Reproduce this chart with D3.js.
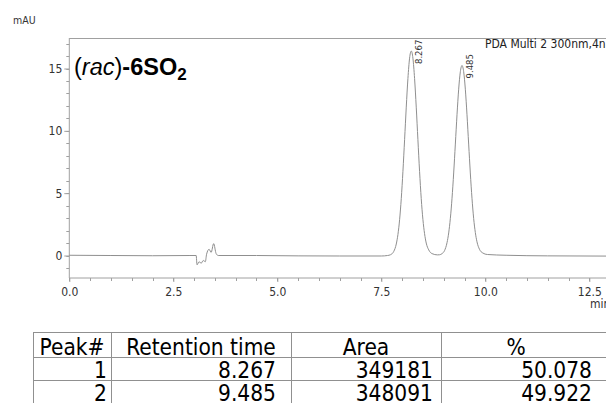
<!DOCTYPE html>
<html>
<head>
<meta charset="utf-8">
<script src="https://cdn.jsdelivr.net/npm/d3@7"></script>
<style>
  body { margin: 0; background: #fff; }
  svg { display: block; }
</style>
</head>
<body>
<div id="canvas"></div>
<script>
"use strict"

let svgWidth = 606
let svgHeight = 403

// chromatogram trace, [time (min), signal (mAU)]
let times = [0.0, 1.0, 2.0, 2.9, 3.05, 3.07, 3.12, 3.17, 3.22, 3.27, 3.30, 3.36, 3.41, 3.47, 3.53, 3.58,
    4.5, 5.5, 6.5, 7.5, 7.65,
    7.72, 7.80, 7.86, 7.90, 7.94, 7.98, 8.02, 8.06, 8.10, 8.14, 8.18, 8.22, 8.26, 8.30, 8.34, 8.38,
    8.42, 8.46, 8.50, 8.54, 8.58, 8.64, 8.72, 8.85, 8.90,
    8.96, 9.02, 9.08, 9.12, 9.16, 9.20, 9.24, 9.28, 9.32, 9.36, 9.40, 9.44, 9.48, 9.52, 9.56, 9.60,
    9.64, 9.68, 9.72, 9.76, 9.80, 9.86, 9.94, 10.05, 10.5, 11.5, 13.2]
let signal = [0.02, 0.0, -0.02, 0.0, 0.0, -0.75, -0.5, -0.62, -0.4, -0.5, 0.1, 0.5, 0.25, 0.95, 0.15, 0.0,
    0.0, -0.03, -0.04, -0.04, 0.0,
    0.06, 0.33, 0.92, 1.69, 2.87, 4.56, 6.75, 9.29, 11.9, 14.2, 15.83, 16.4, 15.83, 14.2, 11.9, 9.29,
    6.75, 4.56, 2.9, 1.75, 1.0, 0.45, 0.15, 0.05, 0.06,
    0.15, 0.39, 1.03, 1.81, 2.98, 4.59, 6.62, 8.94, 11.29, 13.34, 14.74, 15.24, 14.74, 13.34, 11.29, 8.94,
    6.62, 4.59, 2.98, 1.85, 1.1, 0.5, 0.2, 0.08, 0.02, -0.03, -0.05]

let peakTimes = ["8.267", "9.485"]
let peakApex = [16.4, 15.24]
let xTicks = [0, 2.5, 5, 7.5, 10, 12.5]
let yTicks = [0, 5, 10, 15]

let tableHead = ["Peak#", "Retention time", "Area", "%"]
let peakNo = ["1", "2"]
let retTimes = ["8.267", "9.485"]
let areas = ["349181", "348091"]
let percents = ["50.078", "49.922"]

let axisColor = "#a0a0a0"
let tickFont = "'DejaVu Sans Condensed', 'DejaVu Sans', sans-serif"

let drawing = d3.select("#canvas")
    .append("svg")
    .attr("width", svgWidth)
    .attr("height", svgHeight)

let plotLeft = 69.3
let plotTop = 38
let plotBottom = 278
let plotRight = 660

let x = d3.scaleLinear().domain([0, 12.5]).range([plotLeft, 589.3])
let y = d3.scaleLinear().domain([0, 15]).range([255.5, 68.5])

// frame: top line and left axis
drawing.append("line")
    .attr("x1", plotLeft).attr("y1", plotTop + 0.5)
    .attr("x2", plotRight).attr("y2", plotTop + 0.5)
    .attr("stroke", axisColor)

// minor ticks
let yMinor = d3.range(-1, 18, 1).filter(d => y(d) >= plotTop && y(d) <= plotBottom)
drawing.selectAll(".yminor").data(yMinor).enter().append("line")
    .attr("x1", plotLeft - 3).attr("x2", plotLeft)
    .attr("y1", d => Math.round(y(d)) + 0.5).attr("y2", d => Math.round(y(d)) + 0.5)
    .attr("stroke", axisColor)

let xMinor = d3.range(0, 13.5, 0.5)
drawing.selectAll(".xminor").data(xMinor).enter().append("line")
    .attr("x1", d => Math.round(x(d)) + 0.5).attr("x2", d => Math.round(x(d)) + 0.5)
    .attr("y1", plotBottom).attr("y2", plotBottom + 3)
    .attr("stroke", axisColor)

let yAxis = drawing.append("g")
    .attr("transform", `translate(${plotLeft},0)`)
    .call(d3.axisLeft(y).tickValues(yTicks).tickFormat(d3.format("d")).tickSize(5).tickPadding(2))
yAxis.select(".domain").attr("d", `M0,${plotTop}V${plotBottom}`).attr("stroke", axisColor)

let xAxis = drawing.append("g")
    .attr("transform", `translate(0,${plotBottom})`)
    .call(d3.axisBottom(x).tickValues(xTicks).tickFormat(d3.format(".1f")).tickSize(4).tickPadding(5))
xAxis.select(".domain").attr("d", `M${plotLeft},0H${plotRight}`).attr("stroke", axisColor)

drawing.selectAll(".tick line").attr("stroke", axisColor)
drawing.selectAll(".tick text")
    .attr("font-family", tickFont)
    .attr("font-size", 12)
    .attr("fill", "#333")

drawing.append("text")
    .attr("x", 13).attr("y", 24)
    .attr("font-family", tickFont).attr("font-size", 10.5).attr("fill", "#333")
    .text("mAU")

drawing.append("text")
    .attr("x", 590).attr("y", 308)
    .attr("font-family", tickFont).attr("font-size", 12).attr("fill", "#333")
    .text("min")

// trace
let trace = times.map((t, i) => [t, signal[i]])
let line = d3.line()
    .x(d => x(d[0]))
    .y(d => y(d[1]))
    .curve(d3.curveMonotoneX)

drawing.append("path")
    .attr("d", line(trace))
    .attr("fill", "none")
    .attr("stroke", "#8f8f8f")
    .attr("stroke-width", 1)

// peak labels
drawing.selectAll(".peaklabel").data(peakTimes).enter().append("text")
    .attr("transform", (d, i) => `translate(${x(+d) + 9},${y(peakApex[i]) + 13}) rotate(-90)`)
    .attr("font-family", tickFont).attr("font-size", 9.5).attr("fill", "#333")
    .text(d => d)

drawing.append("text")
    .attr("x", 485).attr("y", 48)
    .attr("font-family", tickFont).attr("font-size", 12).attr("fill", "#222")
    .text("PDA Multi 2 300nm,4nm")

// title
let title = drawing.append("text")
    .attr("x", 74).attr("y", 75)
    .attr("font-family", "'Liberation Sans', Arial, sans-serif")
    .attr("font-size", 23.5)
    .attr("fill", "#000")
title.append("tspan").text("(")
title.append("tspan").attr("font-style", "italic").text("rac")
title.append("tspan").text(")")
title.append("tspan").attr("font-weight", "bold").text("-6SO")
title.append("tspan").attr("font-weight", "bold").attr("font-size", 17).attr("dy", 5).text("2")

// table
let colEdges = [33, 111, 291, 441, 640]
let rowEdges = [332.5, 357.5, 380.5, 420]
let tableFont = "'DejaVu Sans Condensed', 'DejaVu Sans', sans-serif"
let tableColor = "#909090"

drawing.selectAll(".hline").data(rowEdges).enter().append("line")
    .attr("x1", colEdges[0]).attr("x2", colEdges[colEdges.length - 1])
    .attr("y1", d => d).attr("y2", d => d)
    .attr("stroke", tableColor)

drawing.selectAll(".vline").data(colEdges).enter().append("line")
    .attr("x1", d => d + 0.5).attr("x2", d => d + 0.5)
    .attr("y1", rowEdges[0]).attr("y2", svgHeight)
    .attr("stroke", tableColor)

drawing.selectAll(".head").data(tableHead).enter().append("text")
    .attr("x", (d, i) => i == 3 ? 516 : (colEdges[i] + colEdges[i + 1]) / 2)
    .attr("y", 355)
    .attr("text-anchor", "middle")
    .attr("font-family", tableFont).attr("font-size", 22.5).attr("fill", "#000")
    .text(d => d)

let rows = peakNo.map((p, i) => [p, retTimes[i], areas[i], percents[i]])
let rightEdges = [107, 276, 433, 592]
rows.forEach((row, r) => {
    drawing.selectAll(".row" + r).data(row).enter().append("text")
        .attr("x", (d, i) => rightEdges[i])
        .attr("y", 378 + r * 23)
        .attr("text-anchor", "end")
        .attr("font-family", tableFont).attr("font-size", 22.5).attr("fill", "#000")
        .text(d => d)
})
</script>
</body>
</html>
